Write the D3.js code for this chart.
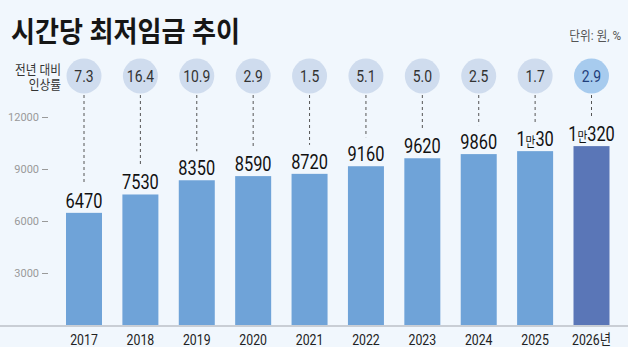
<!DOCTYPE html>
<html>
<head>
<meta charset="utf-8">
<script src="https://cdn.jsdelivr.net/npm/d3@7"></script>
<style>
  html, body { margin: 0; padding: 0; background: #f1f7fd; }
  svg { display: block; }
  text { font-family: Roboto, "Noto Sans CJK KR", sans-serif; }
</style>
</head>
<body>
<svg id="chart" width="628" height="347"></svg>
<script>
// Hourly minimum wage (KRW) and year-on-year increase (%)
const years = ["2017", "2018", "2019", "2020", "2021", "2022", "2023", "2024", "2025", "2026"];
const wages = [6470, 7530, 8350, 8590, 8720, 9160, 9620, 9860, 10030, 10320];
const rates = ["7.3", "16.4", "10.9", "2.9", "1.5", "5.1", "5.0", "2.5", "1.7", "2.9"];
const yTicks = [3000, 6000, 9000, 12000];

const W = 628, H = 347;
const svg = d3.select("#chart");
const KR = "'Noto Sans CJK KR', sans-serif";

svg.append("rect").attr("width", W).attr("height", H).attr("fill", "#f1f7fd");

const x = d3.scalePoint().domain(years).range([84, 591.5]);
const y = d3.scaleLinear().domain([0, 12000]).range([325, 117]);
const barW = 36;
const last = years.length - 1;

// Title and unit note
svg.append("text")
  .attr("transform", "translate(11,42) scale(0.9,1)")
  .attr("font-family", KR).attr("font-weight", 700).attr("font-size", 29)
  .attr("fill", "#161616").text("시간당 최저임금 추이");

svg.append("text")
  .attr("transform", "translate(621,40) scale(0.9,1)")
  .attr("text-anchor", "end")
  .attr("font-family", KR).attr("font-size", 13).attr("fill", "#555")
  .text("단위: 원, %");

// Row caption for the increase-rate bubbles
const cap = svg.append("text")
  .attr("transform", "translate(61,0) scale(0.9,1)")
  .attr("text-anchor", "end")
  .attr("font-family", KR).attr("font-size", 13).attr("fill", "#333");
cap.append("tspan").attr("x", 0).attr("y", 74).text("전년 대비");
cap.append("tspan").attr("x", 0).attr("y", 89).text("인상률");

// Y axis ticks
const yAxis = d3.axisLeft(y).tickValues(yTicks).tickSize(6).tickPadding(3).tickFormat(d3.format("d"));
const gy = svg.append("g").attr("transform", "translate(48,0)").call(yAxis);
gy.select(".domain").remove();
gy.selectAll(".tick line").attr("stroke", "#9a9a9a");
gy.selectAll(".tick text")
  .attr("fill", "#9a9a9a").attr("font-size", 11)
  .attr("font-family", "Roboto, sans-serif");

// Bars
svg.append("g").selectAll("rect").data(wages).join("rect")
  .attr("x", (d, i) => x(years[i]) - barW / 2)
  .attr("y", d => y(d))
  .attr("width", barW)
  .attr("height", d => y(0) - y(d))
  .attr("fill", (d, i) => i === last ? "#5a76b7" : "#6fa3d8");

// Baseline
svg.append("line")
  .attr("x1", 0).attr("x2", W).attr("y1", y(0) + 1).attr("y2", y(0) + 1)
  .attr("stroke", "#c9ced5").attr("stroke-width", 2);

// Dashed leaders from bubbles down to the value labels
svg.append("g").selectAll("line").data(wages).join("line")
  .attr("x1", (d, i) => x(years[i])).attr("x2", (d, i) => x(years[i]))
  .attr("y1", 95).attr("y2", d => y(d) - 29)
  .attr("stroke", "#555").attr("stroke-width", 1).attr("stroke-dasharray", "3,3");

// Increase-rate bubbles
const bub = svg.append("g").selectAll("g").data(rates).join("g")
  .attr("transform", (d, i) => `translate(${x(years[i])},76)`);
bub.append("circle").attr("r", 17.5)
  .attr("fill", (d, i) => i === last ? "#a7cbee" : "#cfdcee");
bub.append("text")
  .attr("transform", "translate(0,6) scale(0.82,1)")
  .attr("text-anchor", "middle").attr("font-size", 17)
  .attr("fill", (d, i) => i === last ? "#1f3f7c" : "#333")
  .text(d => d);

// Value labels above bars (amounts of 10,000+ written with 만)
const vl = svg.append("g").selectAll("text").data(wages).join("text")
  .attr("transform", (d, i) => `translate(${x(years[i])},${y(d) - 5}) scale(0.82,1)`)
  .attr("text-anchor", "middle").attr("font-size", 20).attr("font-weight", 400)
  .attr("fill", "#111");
vl.each(function (d) {
  const t = d3.select(this);
  if (d >= 10000) {
    t.append("tspan").text(Math.floor(d / 10000));
    t.append("tspan").attr("font-family", KR).attr("font-size", 13).text("만");
    t.append("tspan").text(d % 10000);
  } else {
    t.text(d);
  }
});

// Year labels
svg.append("g").selectAll("text").data(years).join("text")
  .attr("transform", d => `translate(${x(d)},345) scale(0.82,1)`)
  .attr("text-anchor", "middle").attr("font-size", 15).attr("fill", "#222")
  .text((d, i) => i === last ? d + "년" : d);
</script>
</body>
</html>
